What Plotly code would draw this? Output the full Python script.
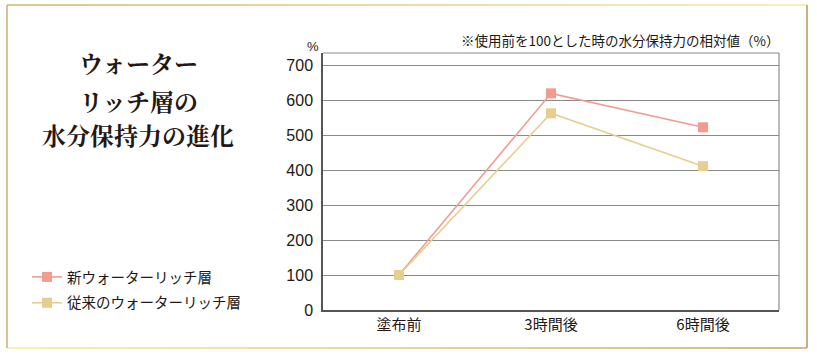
import plotly.graph_objects as go

categories = ["塗布前", "3時間後", "6時間後"]
new_vals = [100, 619, 522]
old_vals = [100, 562, 411]
y_ticks = [0, 100, 200, 300, 400, 500, 600, 700]
series_names = ["新ウォーターリッチ層", "従来のウォーターリッチ層"]

NEW_C = "#F29C8F"
OLD_C = "#E8CE8E"
JP = "Noto Sans CJK JP"

fig = go.Figure()
for i, (name, vals, col) in enumerate([(series_names[0], new_vals, NEW_C), (series_names[1], old_vals, OLD_C)]):
    fig.add_trace(go.Scatter(
        x=categories, y=vals, name=name, mode="lines+markers",
        line=dict(color=col, width=1.6),
        marker=dict(symbol="square", size=10, color=col),
        cliponaxis=False, legendgroup="g%d" % i,
    ))

L, R, T, B = 323, 779, 53, 310
W, H = 817, 356
fig.update_layout(
    width=W, height=H,
    margin=dict(l=L, r=W - R, t=T, b=H - B, pad=0),
    paper_bgcolor="white", plot_bgcolor="white",
    font=dict(family=JP, color="#231815"),
    showlegend=True,
    legend=dict(
        x=(27 - L) / (R - L), y=(B - 290) / (B - T), xanchor="left", yanchor="middle",
        font=dict(family=JP, size=14.5, color="#231815"),
        bgcolor="rgba(0,0,0,0)", tracegroupgap=4, itemwidth=30,
        traceorder="grouped",
    ),
    xaxis=dict(
        type="category", range=[-0.5, 2.5], showgrid=False,
        showline=True, linecolor="#555", linewidth=1.5, mirror=False,
        ticks="", tickfont=dict(family=JP, size=15, color="#231815"),
        fixedrange=True,
    ),
    yaxis=dict(
        range=[0, 700 * (B - T) / (B - 65)], tickvals=y_ticks,
        showgrid=True, gridcolor="#8a8a8a", gridwidth=1,
        showline=True, linecolor="#555", linewidth=1.5,
        ticks="", ticklabelstandoff=5,
        tickfont=dict(family="Liberation Sans", size=16, color="#231815"),
        zeroline=False, fixedrange=True,
    ),
)

fig.add_shape(type="line", xref="paper", yref="paper", x0=0, x1=1, y0=1, y1=1,
              line=dict(color="#8a8a8a", width=1.2))
fig.add_shape(type="line", xref="paper", yref="paper", x0=1, x1=1, y0=0, y1=1,
              line=dict(color="#8a8a8a", width=1.2))

def px(x):
    return (x - L) / (R - L)

def py(y):
    return (B - y) / (B - T)

fx0, fx1, fy0, fy1 = 7, 807, 5, 348
segs = 20
for i in range(segs):
    t0, t1 = i / segs, (i + 1) / segs
    c_top = "rgb(%d,%d,%d)" % (int(212 + 35 * t0), int(180 + 55 * t0), int(110 + 60 * t0))
    fig.add_shape(type="line", xref="paper", yref="paper",
                  x0=px(fx0 + (fx1 - fx0) * t0), x1=px(fx0 + (fx1 - fx0) * t1),
                  y0=py(fy0), y1=py(fy0), line=dict(color=c_top, width=1.5))
    c_bot = "rgb(%d,%d,%d)" % (int(247 - 50 * t0), int(232 - 70 * t0), int(160 - 70 * t0))
    fig.add_shape(type="line", xref="paper", yref="paper",
                  x0=px(fx0 + (fx1 - fx0) * t0), x1=px(fx0 + (fx1 - fx0) * t1),
                  y0=py(fy1), y1=py(fy1), line=dict(color=c_bot, width=1.5))
fig.add_shape(type="line", xref="paper", yref="paper", x0=px(fx0), x1=px(fx0),
              y0=py(fy0), y1=py(fy1), line=dict(color="#CFAE68", width=1.5))
fig.add_shape(type="line", xref="paper", yref="paper", x0=px(fx1), x1=px(fx1),
              y0=py(fy0), y1=py(fy1), line=dict(color="#B8955A", width=1.5))

for txt, yy in [("ウォーター", 63), ("リッチ層の", 100), ("水分保持力の進化", 134)]:
    fig.add_annotation(xref="paper", yref="paper", x=px(138), y=py(yy),
                       text="<b>" + txt + "</b>", showarrow=False,
                       xanchor="center", yanchor="middle",
                       font=dict(family="Noto Serif CJK JP, " + JP, size=24, color="#231815"))

fig.add_annotation(xref="paper", yref="paper", x=px(781), y=py(40),
                   text="※使用前を100とした時の水分保持力の相対値（%）", showarrow=False,
                   xanchor="right", yanchor="middle",
                   font=dict(family=JP, size=13.5, color="#231815"))
fig.add_annotation(xref="paper", yref="paper", x=px(313), y=py(46),
                   text="%", showarrow=False, xanchor="center", yanchor="middle",
                   font=dict(family="Liberation Sans", size=13, color="#231815"))

fig.write_html("out.html", config={"displayModeBar": False},
               post_script="document.body.style.margin='0';")
